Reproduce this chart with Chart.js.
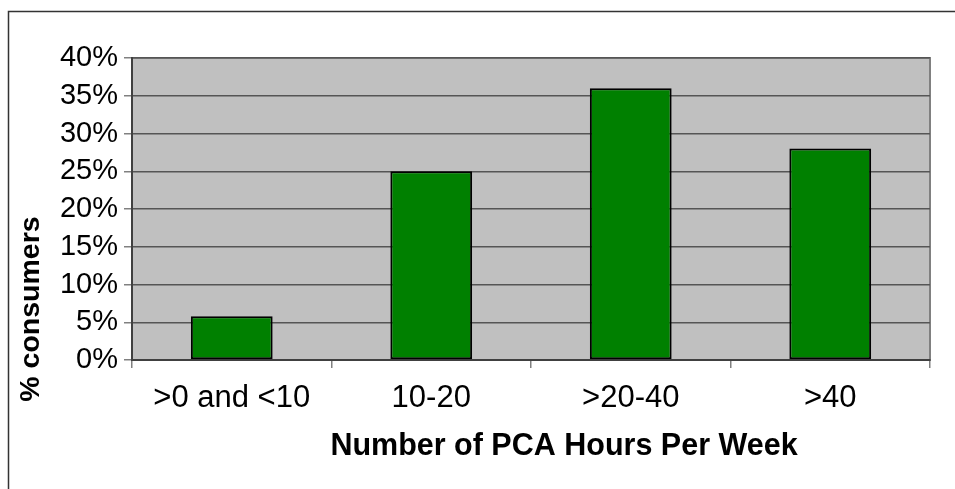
<!DOCTYPE html>
<html>
<head>
<meta charset="utf-8">
<script src="https://cdn.jsdelivr.net/npm/chart.js@4"></script>
<style>
  body { margin: 0; background: #fff; }
  #wrap { width: 955px; height: 489px; position: relative; }
</style>
</head>
<body>
<div id="wrap"><canvas id="myChart" width="955" height="489"></canvas></div>
<script>
categories = [">0 and <10", "10-20", ">20-40", ">40"]
consumers = [5.8, 25, 36, 28]
yTicks = [0, 5, 10, 15, 20, 25, 30, 35, 40]

xTitle = "Number of PCA Hours Per Week"
yTitle = "% consumers"

// gray plot background, frame around the figure and the two axis titles
const decor = {
    id: 'decor',
    beforeDraw(chart) {
        const ctx = chart.ctx
        const a = chart.chartArea
        ctx.save()
        ctx.fillStyle = '#c0c0c0'
        ctx.fillRect(a.left, a.top, a.right - a.left, a.bottom - a.top)
        ctx.strokeStyle = '#808080'
        ctx.lineWidth = 2
        ctx.strokeRect(a.left, a.top, a.right - a.left, a.bottom - a.top)
        // outer frame (only top/left fall inside the picture)
        ctx.strokeStyle = '#333'
        ctx.lineWidth = 1.5
        ctx.beginPath()
        ctx.moveTo(8.5, chart.height)
        ctx.lineTo(8.5, 11.5)
        ctx.lineTo(chart.width, 11.5)
        ctx.stroke()
        ctx.restore()
    },
    afterDraw(chart) {
        const ctx = chart.ctx
        ctx.save()
        ctx.fillStyle = '#000'
        ctx.font = 'bold 30.5px "Liberation Sans", Arial, sans-serif'
        ctx.textAlign = 'center'
        ctx.textBaseline = 'middle'
        ctx.fillText(xTitle, 564, 447)
        ctx.translate(31, 309)
        ctx.rotate(-Math.PI / 2)
        ctx.font = 'bold 28.5px "Liberation Sans", Arial, sans-serif'
        ctx.fillText(yTitle, 0, 0)
        ctx.restore()
    }
}

new Chart(document.getElementById('myChart'), {
    type: 'bar',
    data: {
        labels: categories,
        datasets: [{
            data: consumers,
            backgroundColor: '#008000',
            borderColor: '#000',
            borderWidth: 2,
            borderSkipped: false,
            barPercentage: 0.41,
            categoryPercentage: 1
        }]
    },
    plugins: [decor],
    options: {
        responsive: false,
        animation: false,
        layout: { padding: { left: 0, top: 58, right: 25, bottom: 0 } },
        plugins: {
            legend: { display: false },
            tooltip: { enabled: false }
        },
        scales: {
            x: {
                afterFit: (s) => { s.height = 129 },
                grid: {
                    offset: true,
                    drawOnChartArea: false,
                    drawTicks: true,
                    tickLength: 8,
                    color: '#808080',
                    lineWidth: 1.5
                },
                border: { color: '#404040', width: 2 },
                ticks: {
                    color: '#000',
                    padding: 12,
                    autoSkip: false,
                    maxRotation: 0,
                    font: { family: '"Liberation Sans", Arial', size: 31 }
                }
            },
            y: {
                min: 0,
                max: 40,
                afterFit: (s) => { s.width = 132 },
                afterBuildTicks: (s) => { s.ticks = yTicks.map(v => ({ value: v })) },
                grid: {
                    color: '#555',
                    lineWidth: 1.5,
                    tickLength: 8,
                    tickColor: '#808080'
                },
                border: { color: '#404040', width: 2 },
                ticks: {
                    color: '#000',
                    padding: 6,
                    autoSkip: false,
                    font: { family: '"Liberation Sans", Arial', size: 29 },
                    callback: (v) => v + '%'
                }
            }
        }
    }
})
</script>
</body>
</html>
